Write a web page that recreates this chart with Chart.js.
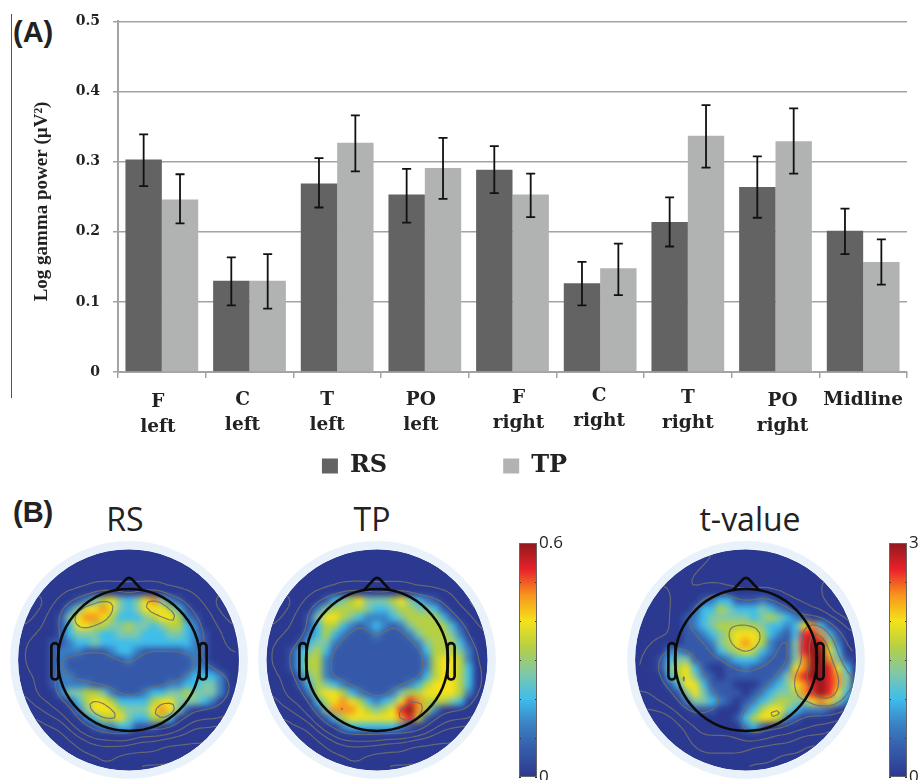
<!DOCTYPE html>
<html>
<head>
<meta charset="utf-8">
<script src="https://cdn.jsdelivr.net/npm/chart.js@4"></script>
<style>
html,body{margin:0;padding:0;background:#fff;width:919px;height:780px;overflow:hidden}
canvas{position:absolute;display:block}
.t{position:absolute;white-space:nowrap;color:#222;line-height:1}
.panel{font:bold 29px "Liberation Sans"}
.map{font:32px "Open Sans";transform:translate(-50%,-50%)}
.heat{position:absolute;width:244px;height:244px;background:#2b3990;clip-path:circle(110.5px at 122px 122px)}
.heat canvas{filter:blur(3px)}
</style>
</head>
<body>
<div style="position:absolute;left:11px;top:14px;width:1px;height:384px;background:#555"></div>
<div class="t panel" style="left:13px;top:16px">(A)</div>
<div class="t panel" style="left:13px;top:496px">(B)</div>
<div class="t map" style="left:125px;top:518px">RS</div>
<div class="t map" style="left:372px;top:518px">TP</div>
<div class="t map" style="left:750px;top:518px">t-value</div>
<script>
// ---------- Panel A data ----------
const regionLabels=[["F","left"],["C","left"],["T","left"],["PO","left"],["F","right"],["C","right"],["T","right"],["PO","right"],["Midline"]];
const rsPower=[.303,.130,.269,.253,.2886,.1265,.214,.264,.2014];
const tpPower=[.246,.130,.327,.291,.253,.148,.337,.329,.157];
const rsLow=[.265,.095,.2346,.213,.255,.095,.179,.22,.168];
const rsHigh=[.339,.1635,.305,.2896,.322,.157,.249,.3076,.233];
const tpLow=[.212,.0905,.286,.247,.221,.1095,.2915,.283,.1246];
const tpHigh=[.282,.168,.366,.334,.283,.183,.3806,.376,.189];
const labelNudgeX=[-4,-7,-10,-4,6,-1,0,7,0];
const labelNudgeY=[2,0,0,0,-2,-4,-2,1,0];

// ---------- Panel B data (level per scalp cell) ----------
const levelCodes="abcd0123456789";
const levelColors=["#2b3990","#3559a8","#3a80c4","#3fbdea","#80c8a8","#b5d044","#f4e21a","#f7941e","#e8202a","#8f1a1c"];
const rsMap=[
"ddddd ddddd ddddd ddddd ddddd","ddddd ddddd ddddd ddddd ddddd","ddddd ddddd ddddd ddddd ddddd","ddddd ddddd ddddd ddddd ddddd",
"ddddd ddd00 00000 0dddd ddddd","cccdd 01245 64346 74210 ddccc","cccd0 24667 64346 66531 0dccc","ccd01 46776 53334 56652 10dcc",
"cdd01 36655 44544 34553 20ddc","dd001 34443 34443 33443 210dd","d0011 23343 33333 33333 210dd","d0012 22111 23321 11112 2100d",
"d0012 11111 11211 11111 21000","d0012 11111 11111 11111 22100","dd012 21111 11111 11112 33320","dd012 22211 11111 11223 34420",
"cd002 44554 21112 33445 44420","ccdd0 13566 53333 56644 4320d","cccdd 02466 65444 67641 0000d","bbbcc d0235 56433 5530d ddddc",
"bbbbb cd012 23311 10ddc cccbb","bbbbb bccdd dddcc ccccc ccbbb","bbbbb bbccc ccccc cbbbb bbbbb","bbbbb bbbbc cbbbb bbbba aaaaa","bbbbb bbbbb bbbaa aaaaa aaaaa"];
const tpMap=[
"ddddd ddddd ddddd ddddd ddddd","ddddd ddddd ddddd ddddd ddddd","ddddd ddddd ddddd ddddd ddddd","ddddd ddddd ddddd ddddd ddddd",
"ddddd ddd00 00000 0dddd ddddd","cccdd 01345 64445 64321 0dccc","cccd0 24555 54334 55443 10dcc","ccd01 46654 32223 45555 310dc",
"cdd01 35532 12321 24555 5310d","dd002 35321 11211 12455 5420d","d0013 44211 11111 11245 55310","d0134 53111 11111 11135 55420",
"d0135 52111 11111 11125 66520","d0135 52111 11111 11125 66530","dd024 52111 11111 11135 66530","dd013 54321 11111 12356 66530",
"cd002 56653 21112 45566 66520","ccdd0 35676 53234 68755 5430d","cccdd 14777 65456 89752 0000d","bbbcc d1356 66666 78510 ddddc",
"bbbbb cd023 33333 210dc cccbb","bbbbb bccdd dddcc ccccc ccbbb","bbbbb bbccc ccccc cbbbb bbbbb","bbbbb bbbbc cbbbb bbbba aaaaa","bbbbb bbbbb bbbaa aaaaa aaaaa"];
const tvalueMap=[
"00000 0000d ddddd ddddd ddddd","00000 000dd ddddd ddddd ddddd","00000 00ddd ddddd ddddd ddddd","00000 0dddd ddddd ddddd dcccc",
"dddd0 0d000 ddddd ddddd dcccc","dddd0 00123 31112 10ddd dcccc","dddd0 01335 43334 3210d ddccc","dddd0 12344 44434 54321 0dccc",
"dddd0 12345 55554 33236 731dc","dddd0 11234 56665 32138 8731d","dd000 11124 56765 21148 98520","d0022 11113 45653 21148 99630",
"d0134 41111 23332 11147 99741","d0145 63100 11211 11267 99863","00035 64210 11111 12478 99874","00013 66311 10001 23467 89874",
"dd001 46421 11012 34457 89863","ddd00 24432 10123 45544 67642","ccccd 01110 00235 66432 22100","ccccc d0000 01356 65210 ddddc",
"ccccc cd000 00231 ddddd ddccc","ccccc cdddd ddddd dddcc ccccc","ccccc ccddd dddcc ccccb bbbbb","ccccc ccccc ccccc cbbbb bbbbb","ccccc ccccc ccbbb bbbbb bbbbb"];
const rsContours=[-3.5,-2.5,-1.5,-.5,1.5,5];
const tpContours=[-3.5,-2.5,-1.5,-.5,1.5,6.3];
const tvalueContours=[-3.5,-2.5,-1.5,-.5,1.5,5,7.3];

Chart.defaults.animation=false;
Chart.defaults.responsive=false;
Chart.defaults.maintainAspectRatio=false;
Chart.defaults.plugins.tooltip.enabled=false;

function addCanvas(left,top,w,h,parent){
  const c=document.createElement('canvas');c.width=w;c.height=h;
  c.style.cssText=`left:${left}px;top:${top}px;width:${w}px;height:${h}px`;
  (parent||document.body).appendChild(c);return c;
}

// ---------- Panel A ----------
const errorBars={id:'errorBars',afterDatasetsDraw(chart){
  const y=chart.scales.y,ctx=chart.ctx;
  [[0,rsLow,rsHigh],[1,tpLow,tpHigh]].forEach(([ds,lo,hi])=>{
    chart.getDatasetMeta(ds).data.forEach((bar,i)=>{
      ctx.save();ctx.strokeStyle='#111';ctx.lineWidth=1.8;ctx.beginPath();
      const a=y.getPixelForValue(lo[i]),b=y.getPixelForValue(hi[i]);
      ctx.moveTo(bar.x,a);ctx.lineTo(bar.x,b);
      ctx.moveTo(bar.x-4.5,a);ctx.lineTo(bar.x+4.5,a);
      ctx.moveTo(bar.x-4.5,b);ctx.lineTo(bar.x+4.5,b);
      ctx.stroke();ctx.restore();
    });
  });
}};
const legendGap=116;
const layoutTweak={id:'layoutTweak',
  beforeLayout(chart){
    const lg=chart.legend;
    if(!lg._slim){const fit=lg.fit;lg.fit=function(){fit.call(this);this.height=34;};lg._slim=true;}
  },
  afterLayout(chart){
    chart.scales.x.getLabelItems().forEach((it,i)=>{
      it.options.translation[0]+=labelNudgeX[i];
      it.options.translation[1]+=labelNudgeY[i];
    });
    const lg=chart.legend;
    lg.left-=9;lg.right-=9;lg.top=464-legendGap-10;
  }};
const axisGray='#a3a3a3';
new Chart(addCanvas(0,0,919,490),{
  type:'bar',
  data:{labels:regionLabels,datasets:[
    {label:'RS',data:rsPower,backgroundColor:'#636363',categoryPercentage:.83,barPercentage:1},
    {label:'TP',data:tpPower,backgroundColor:'#b1b3b2',categoryPercentage:.83,barPercentage:1}]},
  plugins:[errorBars,layoutTweak],
  options:{
    layout:{padding:{left:0,right:12,top:20,bottom:11}},
    plugins:{legend:{position:'bottom',labels:{boxWidth:16,boxHeight:15,padding:legendGap,color:'#222',
      font:{family:'"DejaVu Serif"',size:24,weight:'bold'}}}},
    scales:{
      x:{afterFit(s){s.height=73},
        grid:{drawOnChartArea:false,color:axisGray,lineWidth:1.5,tickLength:6},
        border:{color:axisGray,width:2},
        ticks:{color:'#222',maxRotation:0,autoSkip:false,padding:10,
          font:{family:'"DejaVu Serif"',size:18.5,weight:'bold',lineHeight:1.35}}},
      y:{min:0,max:.5,afterFit(s){s.width=118},
        grid:{color:axisGray,lineWidth:1.5,tickLength:5},
        border:{color:axisGray,width:2},
        ticks:{stepSize:.1,color:'#222',padding:13,callback:v=>v===0?'0':v.toFixed(1),
          font:{family:'"DejaVu Serif"',size:14,weight:'bold'}},
        title:{display:true,text:'Log gamma power (\u00b5V\u00b2)\u00a0\u00a0',color:'#222',padding:{top:31,bottom:0},
          font:{family:'"Liberation Serif"',size:19,weight:'bold'}}}
    }
  }
});

// ---------- Panel B ----------
const toGrid=rows=>rows.map(r=>[...r.replace(/ /g,'')].map(ch=>levelCodes.indexOf(ch)-4));
const mapScales={x:{type:'linear',display:false,min:-13.75,max:13.75},y:{type:'linear',display:false,min:-13.75,max:13.75,reverse:true}};

// Contours are traced on a softened copy of the cell levels so they stay rounded, as in the reference.
function softened(grid){
  const n=grid.length,m=2*n-1;
  let f=Array.from({length:m},(_,r)=>Array.from({length:m},(_,c)=>{
    const r0=r>>1,c0=c>>1,r1=Math.min(r0+(r&1),n-1),c1=Math.min(c0+(c&1),n-1);
    return (grid[r0][c0]+grid[r0][c1]+grid[r1][c0]+grid[r1][c1])/4;
  }));
  for(let pass=0;pass<4;pass++){
    f=f.map((row,r)=>row.map((v,c)=>{
      let s=0,w=0;
      for(let i=-1;i<=1;i++)for(let j=-1;j<=1;j++){
        const q=f[r+i]&&f[r+i][c+j];if(q===undefined)continue;
        const k=(2-Math.abs(i))*(2-Math.abs(j));s+=q*k;w+=k;
      }
      return s/w;
    }));
  }
  return f;
}
function contourSegments(grid,level){
  const segs=[],n=grid.length;
  const cross=(x1,y1,a,x2,y2,b)=>[x1+(level-a)/(b-a)*(x2-x1),y1+(level-a)/(b-a)*(y2-y1)];
  for(let r=0;r<n-1;r++)for(let c=0;c<n-1;c++){
    const a=grid[r][c],b=grid[r][c+1],d=grid[r+1][c+1],e=grid[r+1][c];
    const pts=[];
    if((a<level)!==(b<level))pts.push(cross(c,r,a,c+1,r,b));
    if((b<level)!==(d<level))pts.push(cross(c+1,r,b,c+1,r+1,d));
    if((d<level)!==(e<level))pts.push(cross(c+1,r+1,d,c,r+1,e));
    if((e<level)!==(a<level))pts.push(cross(c,r+1,e,c,r,a));
    for(let i=0;i+1<pts.length;i+=2)segs.push([pts[i],pts[i+1]]);
  }
  return segs;
}

function drawMap(cx,cy,rows,levels){
  const grid=toGrid(rows),soft=softened(grid);
  const cells=[],colors=[];
  grid.forEach((row,r)=>row.forEach((v,c)=>{cells.push({x:c-12,y:r-12});colors.push(levelColors[Math.max(v,0)]);}));
  const wrap=document.createElement('div');wrap.className='heat';
  wrap.style.left=(cx-122)+'px';wrap.style.top=(cy-122)+'px';document.body.appendChild(wrap);
  new Chart(addCanvas(0,0,244,244,wrap),{type:'scatter',
    data:{datasets:[{data:cells,pointStyle:'rect',pointRadius:6.7,pointBorderWidth:0,pointBackgroundColor:colors}]},
    options:{scales:mapScales,plugins:{legend:{display:false}}}});
  const outline={id:'outline',afterDraw(chart){
    const X=chart.scales.x,Y=chart.scales.y,ctx=chart.ctx;
    const px=v=>X.getPixelForValue(v),py=v=>Y.getPixelForValue(v),u=px(1)-px(0);
    ctx.save();
    ctx.strokeStyle='#e9f2fa';ctx.lineWidth=u*.9;
    ctx.beginPath();ctx.arc(px(0),py(0),u*12.95,0,7);ctx.stroke();
    ctx.save();ctx.beginPath();ctx.arc(px(0),py(0),u*12.45,0,7);ctx.clip();
    ctx.strokeStyle='rgba(110,110,110,.9)';ctx.lineWidth=1.2;ctx.beginPath();
    levels.forEach(l=>contourSegments(soft,l).forEach(([a,b])=>{
      ctx.moveTo(px(a[0]/2-12),py(a[1]/2-12));ctx.lineTo(px(b[0]/2-12),py(b[1]/2-12));}));
    ctx.stroke();ctx.restore();
    ctx.strokeStyle='#0b0b0b';ctx.lineWidth=2.6;ctx.lineJoin='round';
    ctx.beginPath();ctx.arc(px(0),py(0),u*8,0,7);ctx.stroke();
    ctx.beginPath();ctx.moveTo(px(-1.45),py(-7.9));ctx.lineTo(px(-.35),py(-9.1));
    ctx.quadraticCurveTo(px(0),py(-9.4),px(.35),py(-9.1));ctx.lineTo(px(1.45),py(-7.9));ctx.stroke();
    [[-8.75,-7.95],[7.95,8.75]].forEach(([l,r])=>{
      ctx.beginPath();ctx.roundRect(px(l),py(-1.9),px(r)-px(l),py(2.2)-py(-1.9),4);ctx.stroke();});
    ctx.restore();
  }};
  new Chart(addCanvas(cx-122,cy-122,244,244),{type:'scatter',data:{datasets:[{data:[]}]},plugins:[outline],
    options:{scales:mapScales,plugins:{legend:{display:false}}}});
}
drawMap(128.5,660,rsMap,rsContours);
drawMap(377,660,tpMap,tpContours);
drawMap(745.5,660,tvalueMap,tvalueContours);

// ---------- Colour bars ----------
function drawColorbar(left,top,maxVal,step){
  const inner={id:'inner',afterDraw(chart){
    const a=chart.chartArea,y=chart.scales.y,ctx=chart.ctx;
    ctx.save();ctx.strokeStyle='#333';ctx.lineWidth=1;ctx.beginPath();
    for(let v=0;v<=maxVal+1e-9;v+=step){
      const p=Math.round(y.getPixelForValue(v))+.5;
      ctx.moveTo(a.left,p);ctx.lineTo(a.left+2,p);ctx.moveTo(a.right,p);ctx.lineTo(a.right-2,p);
    }
    ctx.stroke();
    ctx.strokeStyle='#666';ctx.strokeRect(a.left+.5,a.top+.5,a.width-1,a.height-1);
    ctx.restore();
  }};
  new Chart(addCanvas(left,top,100,270),{type:'bar',
    data:{labels:['scale'],datasets:[{data:[[0,maxVal]],categoryPercentage:1,barPercentage:1,
      backgroundColor(ctx){
        const a=ctx.chart.chartArea;if(!a)return levelColors[0];
        const g=ctx.chart.ctx.createLinearGradient(0,a.bottom,0,a.top);
        levelColors.forEach((c,i)=>g.addColorStop(i/(levelColors.length-1),c));
        return g;
      }}]},
    plugins:[inner],
    options:{layout:{padding:{left:14,top:13,bottom:23}},
      plugins:{legend:{display:false}},
      scales:{x:{display:false},
        y:{position:'right',min:0,max:maxVal,afterFit(s){s.width=68},
          grid:{display:false,drawTicks:false},border:{display:false},
          ticks:{stepSize:step,padding:2,color:'#222',autoSkip:false,
            callback:v=>(Math.abs(v)<1e-9||Math.abs(v-maxVal)<1e-9)?String(v):'',
            font:{family:'"Open Sans"',size:17}}}}}
  });
}
drawColorbar(505,530,.6,.1);
drawColorbar(875,530,3,.5);
</script>
</body>
</html>
